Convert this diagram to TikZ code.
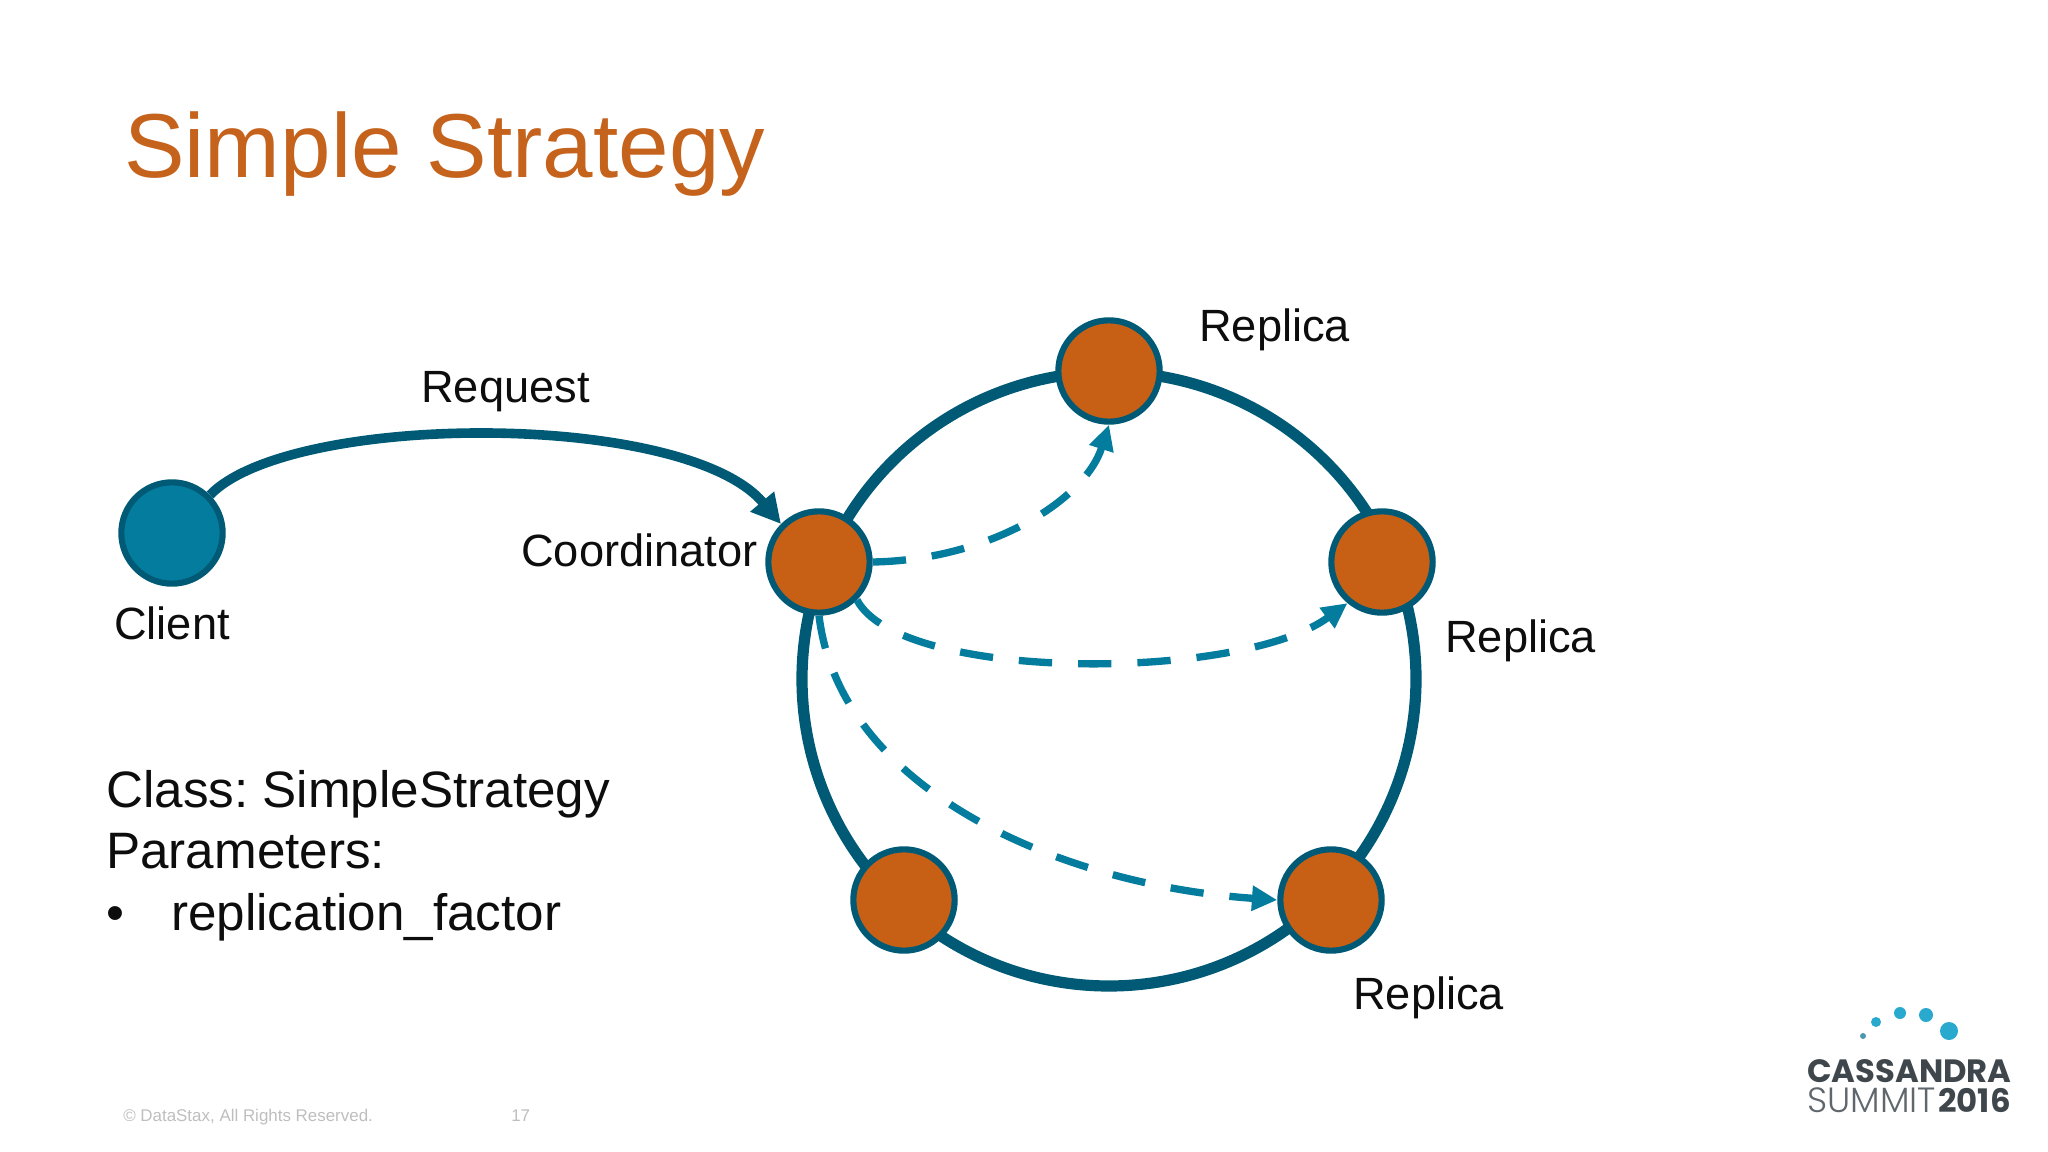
\documentclass[tikz,border=0pt]{standalone}
\usepackage{fontspec}
\setmainfont{Liberation Sans}
\newfontfamily\logofont{Poppins}
\newfontfamily\logolight{Poppins Light}
\usetikzlibrary{arrows.meta}
\definecolor{ringc}{HTML}{005A75}
\definecolor{dashc}{HTML}{047C9E}
\definecolor{orangec}{HTML}{C75F14}
\definecolor{titlec}{HTML}{C5621C}
\definecolor{footc}{HTML}{BEBEBE}
\definecolor{logodark}{HTML}{3F474C}
\definecolor{logolite}{HTML}{5F676C}
\definecolor{dotc}{HTML}{2AA9CF}
\pgfdeclarelayer{bg}
\pgfsetlayers{bg,main}
\tikzset{
  server/.style={circle,draw=ringc,line width=4.6pt,fill=orangec,minimum size=76pt,inner sep=0pt},
  clientnode/.style={server,fill=dashc},
  lab/.style={anchor=base west,inner sep=0pt,text=black!95,font=\fontsize{33.9pt}{38pt}\selectfont},
  bodytext/.style={anchor=base west,inner sep=0pt,text=black!95,font=\fontsize{38.4pt}{44pt}\selectfont},
  foot/.style={anchor=base west,inner sep=0pt,text=footc,font=\fontsize{12.7pt}{15pt}\selectfont},
  ringedge/.style={draw=ringc,line width=8.4pt},
  reqedge/.style={draw=ringc,line width=7.2pt,-{Triangle[length=22pt,width=22pt]}},
  repl/.style={draw=dashc,line width=5.5pt,dash pattern=on 25pt off 19.5pt,-{Triangle[length=19pt,width=18pt]}},
  dot/.style={circle,fill=dotc,inner sep=0pt},
}
\newcommand\ringarc[4]{\draw[ringedge] (#1.center) -- ([shift={(#3:307)}]ringcentre) arc[start angle=#3,end angle=#4,radius=307] -- (#2.center);}
\begin{document}
\frenchspacing
\begin{tikzpicture}[x=0.75pt,y=0.75pt]
\useasboundingbox (0,0) rectangle (2048,-1152);
\node[anchor=base west,inner sep=0pt,text=titlec,font=\fontsize{68.1pt}{72pt}\selectfont] (title) at (124,-177) {Simple Strategy};

\node[clientnode] (client) at (172,-533) {};
\node[server] (coord) at (819,-562) {};
\node[server] (top) at (1109,-371) {};
\node[server] (right) at (1382,-562) {};
\node[server] (br) at (1331,-900) {};
\node[server] (bl) at (904,-900) {};
\coordinate (ringcentre) at (1109,-679);

\begin{pgfonlayer}{bg}
\ringarc{coord}{top}{158}{90}
\ringarc{top}{right}{90}{23}
\ringarc{right}{br}{23}{-45}
\ringarc{br}{bl}{-45}{-133}
\ringarc{bl}{coord}{-133}{-202}
\end{pgfonlayer}

\draw[reqedge] (client.45) .. controls (290,-412) and (685,-410) .. (coord.135);
\draw[repl] (coord.east) .. controls (990,-560) and (1085,-500) .. (top.south);
\draw[repl] (coord.-45) .. controls (900,-682) and (1240,-682) .. (right.230);
\draw[repl] (coord.south) .. controls (840,-790) and (1060,-885) .. (br.west);

\node[lab] (lreq) at (421,-402) {Request};
\node[lab] (lrep1) at (1199,-341) {Replica};
\node[lab] (lrep2) at (1445,-652) {Replica};
\node[lab] (lrep3) at (1353,-1009) {Replica};
\node[lab] (lcoord) at (521,-566) {Coordinator};
\node[lab] (lclient) at (114,-639) {Client};

\node[bodytext] (class) at (106,-807) {Class: SimpleStrategy};
\node[bodytext] (params) at (106,-868) {Parameters:};
\node[bodytext] (bullet) at (106,-930) {•};
\node[bodytext] (repf) at (171,-930) {replication\_factor};

\node[foot] (copy) at (123,-1121) {© DataStax, All Rights Reserved.};
\node[foot] (pageno) at (511,-1121) {17};

\node[dot,minimum size=4.5pt,fill=dotc!60!gray] (d1) at (1863,-1036) {};
\node[dot,minimum size=7.5pt] (d2) at (1876,-1022) {};
\node[dot,minimum size=9pt] (d3) at (1900,-1013) {};
\node[dot,minimum size=10.5pt] (d4) at (1926,-1015) {};
\node[dot,minimum size=13.5pt] (d5) at (1949,-1031) {};
\node[anchor=base west,inner sep=0pt,text=logodark,font=\logofont\bfseries\fontsize{24.2pt}{26pt}\selectfont] (lg1) at (1807,-1082) {CASSANDRA};
\node[anchor=base west,inner sep=0pt,text=logolite,font=\logolight\fontsize{26.3pt}{28pt}\selectfont] (lg2) at (1807,-1112) {SUMMIT};
\node[anchor=base east,inner sep=0pt,text=logodark,font=\logofont\bfseries\fontsize{24.3pt}{26pt}\selectfont] (lg3) at (2011,-1112) {2016};
\end{tikzpicture}
\end{document}
